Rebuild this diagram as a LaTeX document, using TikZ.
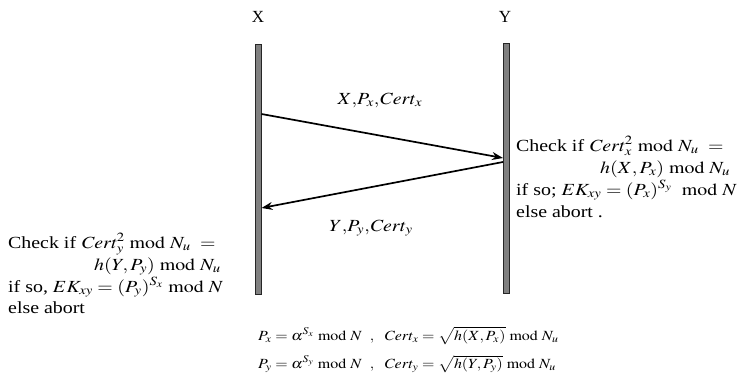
\documentclass[tikz,border=0pt]{standalone}
\usepackage{mathptmx}
\usepackage{graphicx}
\usepackage[no-math]{fontspec}
\setmainfont{Liberation Serif}
\usetikzlibrary{arrows.meta}
\newcommand{\hstretch}[1]{\scalebox{1.17}[1]{#1}}
\newcommand{\hstretchb}[1]{\scalebox{1.14}[1]{#1}}
\begin{document}
\begin{tikzpicture}[x=1pt,y=-1pt,
  lifeline/.style={draw=black!85, fill=black!50, line width=0.8pt, minimum width=6pt, minimum height=250pt, inner sep=0pt},
  msg/.style={line width=1.7pt, -{Stealth[length=11pt,width=8pt]}},
  txt/.style={font=\fontsize{17}{22}\selectfont, inner sep=0pt, anchor=base west},
  lbl/.style={font=\fontsize{17}{22}\selectfont, inner sep=0pt},
  eq/.style={font=\fontsize{14}{20}\selectfont, inner sep=0pt, anchor=base west}]
\useasboundingbox (0,0) rectangle (742,391);
% participants
\node[lbl] (nx) at (258,17) {X};
\node[lbl] (ny) at (505,17) {Y};
\node[lifeline] (lx) at (258.5,169) {};
\node[lifeline] (ly) at (506,168.5) {};
% message end points on the lifelines
\coordinate (m1s) at (261.5,114);
\coordinate (m1e) at (503,158);
\coordinate (m2s) at (503,162);
\coordinate (m2e) at (261.5,208);
\draw[msg] (m1s) -- (m1e);
\draw[msg] (m2s) -- (m2e);
\node[lbl] (l1) at (380,100) {\hstretch{$X{,}P_x{,}\mathit{Cert}_x$}};
\node[lbl] (l2) at (371,228) {\hstretch{$Y{,}P_y{,}\mathit{Cert}_y$}};
% right block
\node[txt] (r1) at (516,151) {\hstretch{Check if $\mathit{Cert}_x^2\ \mathrm{mod}\ N_u\ =$}};
\node[txt] (r2) at (600,173) {\hstretch{$h(X,P_x)\ \mathrm{mod}\ N_u$}};
\node[txt] (r3) at (516,195) {\hstretch{if so; $EK_{xy} = (P_x)^{S_y}\ \ \mathrm{mod}\ N$}};
\node[txt] (r4) at (516,217) {\hstretch{else abort .}};
% left block
\node[txt] (a1) at (8,248) {\hstretch{Check if $\mathit{Cert}_y^2\ \mathrm{mod}\ N_u\ =$}};
\node[txt] (a2) at (94,270) {\hstretch{$h(Y,P_y)\ \mathrm{mod}\ N_u$}};
\node[txt] (a3) at (8,292) {\hstretch{if so,\ $EK_{xy} = (P_y)^{S_x}\ \mathrm{mod}\ N$}};
\node[txt] (a4) at (8,313) {\hstretch{else abort}};
% bottom formulas
\node[eq] (e1) at (258,340) {\hstretchb{$P_x = \alpha^{S_x}\ \mathrm{mod}\ N\ \ ,\ \ \mathit{Cert}_x = \sqrt{h(X,P_x)}\ \mathrm{mod}\ N_u$}};
\node[eq] (e2) at (258,368) {\hstretchb{$P_y = \alpha^{S_y}\ \mathrm{mod}\ N\ \ ,\ \ \mathit{Cert}_y = \sqrt{h(Y,P_y)}\ \mathrm{mod}\ N_u$}};
\end{tikzpicture}
\end{document}
